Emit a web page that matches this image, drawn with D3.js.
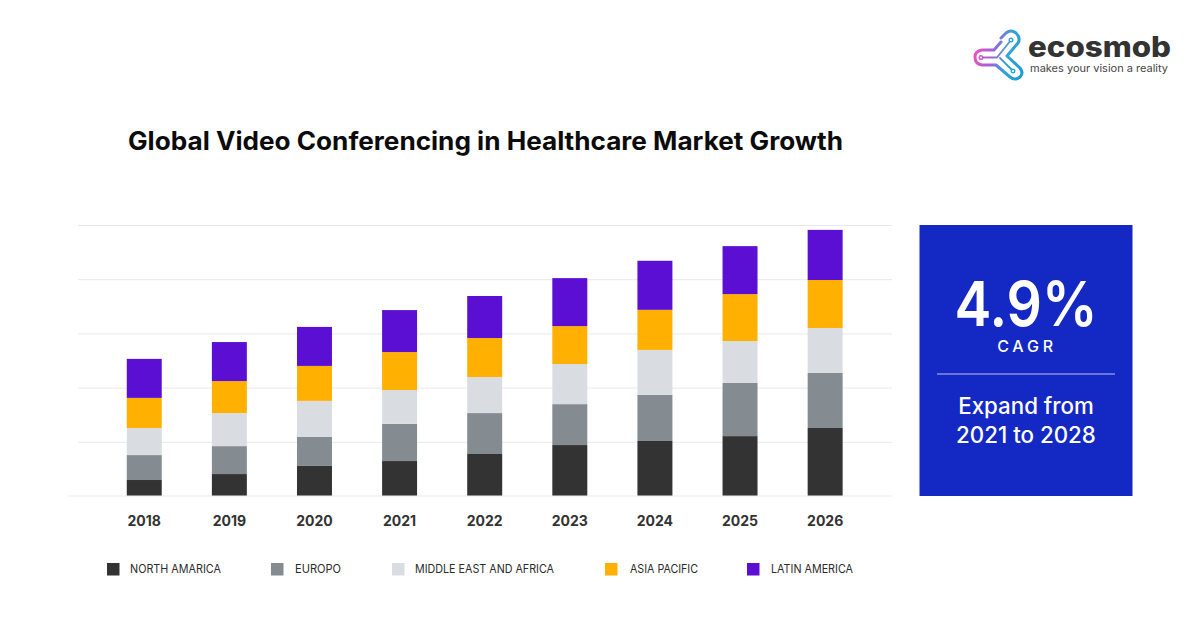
<!DOCTYPE html>
<html>
<head>
<meta charset="utf-8">
<script src="https://cdn.jsdelivr.net/npm/d3@7"></script>
<style>
  html, body { margin: 0; padding: 0; background: #fff; }
  svg { display: block; }
  text { font-family: Inter, Lato, sans-serif; }
</style>
</head>
<body>
<svg id="chart" width="1200" height="630"></svg>
<script>
const years = ["2018", "2019", "2020", "2021", "2022", "2023", "2024", "2025", "2026"];
const regions = ["NORTH AMARICA", "EUROPO", "MIDDLE EAST AND AFRICA", "ASIA PACIFIC", "LATIN AMERICA"];
const colors = ["#333333", "#848c92", "#d9dde1", "#ffb000", "#5b0fd3"];

// no axis labels in the original so the unit is arbitrary
const northAmerica = [5.9, 8.1, 11.1, 12.9, 15.5, 18.8, 20.3, 22.1, 25.1];
const europe = [9.2, 10.3, 10.7, 13.7, 15.1, 15.1, 17.0, 19.6, 20.3];
const middleEast = [10.0, 12.2, 13.3, 12.5, 13.3, 14.8, 16.6, 15.5, 16.6];
const asiaPacific = [11.1, 11.8, 12.9, 14.0, 14.4, 14.0, 14.8, 17.3, 17.7];
const latinAmerica = [14.4, 14.4, 14.4, 15.5, 15.5, 17.7, 18.1, 17.7, 18.5];
const gridTicks = [20, 40, 60, 80, 100];

const legendTextX = [130, 295, 415, 630, 771];
const legendBoxX = [107, 271, 392, 605, 747];
const legendWidths = [91, 46, 139, 68, 82];

const svg = d3.select("#chart");

const x = d3.scaleBand()
  .domain(years)
  .range([101.7, 867.7])
  .paddingInner(0.589)
  .paddingOuter(0.2945);

const y = d3.scaleLinear().domain([0, 100]).range([496, 225]);

// Title
svg.append("text")
  .attr("x", 128)
  .attr("y", 150)
  .attr("font-size", 25)
  .attr("font-weight", 700)
  .attr("textLength", 715)
  .attr("lengthAdjust", "spacingAndGlyphs")
  .attr("fill", "#0b0b0b")
  .text("Global Video Conferencing in Healthcare Market Growth");

// Grid lines
svg.append("g")
  .attr("transform", "translate(892,0)")
  .call(d3.axisLeft(y).tickValues(gridTicks).tickSize(814).tickFormat(""))
  .call((g) => g.select(".domain").remove())
  .selectAll(".tick line")
  .attr("stroke", "#e6e9ec")
  .attr("stroke-width", 1);

// Stacked bars
const rows = years.map((year, i) => ({
  year: year,
  na: northAmerica[i],
  eu: europe[i],
  me: middleEast[i],
  ap: asiaPacific[i],
  la: latinAmerica[i]
}));
const stack = d3.stack().keys(["na", "eu", "me", "ap", "la"]);

svg.append("g")
  .selectAll("g")
  .data(stack(rows))
  .join("g")
  .attr("fill", (d, i) => colors[i])
  .selectAll("rect")
  .data((d) => d)
  .join("rect")
  .attr("x", (d) => x(d.data.year))
  .attr("y", (d) => y(d[1]))
  .attr("width", x.bandwidth())
  .attr("height", (d) => y(d[0]) - y(d[1]));

// Baseline and year labels
svg.append("g")
  .attr("transform", "translate(0,496)")
  .call(d3.axisBottom(x).tickSize(0).tickPadding(20))
  .call((g) => g.select(".domain").remove())
  .selectAll("text")
  .attr("font-size", 14)
  .attr("font-weight", 700)
  .attr("font-family", "Inter")
  .attr("fill", "#333");

svg.append("line")
  .attr("x1", 68).attr("x2", 892)
  .attr("y1", y(0)).attr("y2", y(0))
  .attr("stroke", "#e9ebed")
  .attr("stroke-width", 1.2);

// Legend
const legend = svg.append("g")
  .selectAll("g")
  .data(regions)
  .join("g");

legend.append("rect")
  .attr("x", (d, i) => legendBoxX[i])
  .attr("y", 563)
  .attr("width", 12.5)
  .attr("height", 12.5)
  .attr("fill", (d, i) => colors[i]);

legend.append("text")
  .attr("x", (d, i) => legendTextX[i])
  .attr("y", 573)
  .attr("font-size", 12)
  .attr("fill", "#2b2b2b")
  .attr("textLength", (d, i) => legendWidths[i])
  .attr("lengthAdjust", "spacingAndGlyphs")
  .text((d) => d);

// CAGR panel
const panel = svg.append("g");
panel.append("rect")
  .attr("x", 919.5).attr("y", 225)
  .attr("width", 213).attr("height", 271)
  .attr("fill", "#1428c4");

panel.append("text")
  .attr("x", 1026).attr("y", 326)
  .attr("text-anchor", "middle")
  .attr("font-size", 62)
  .attr("font-weight", 600)
  .attr("textLength", 143)
  .attr("lengthAdjust", "spacingAndGlyphs")
  .attr("fill", "#fff")
  .text("4.9%");

panel.append("text")
  .attr("x", 1027).attr("y", 352)
  .attr("text-anchor", "middle")
  .attr("font-size", 16)
  .attr("font-weight", 500)
  .attr("letter-spacing", 3.8)
  .attr("fill", "#fff")
  .text("CAGR");

panel.append("line")
  .attr("x1", 937).attr("x2", 1115)
  .attr("y1", 374).attr("y2", 374)
  .attr("stroke", "#b9c0ee")
  .attr("stroke-width", 1.2);

panel.selectAll(".note")
  .data(["Expand from", "2021 to 2028"])
  .join("text")
  .attr("class", "note")
  .attr("x", 1026)
  .attr("y", (d, i) => 414 + i * 29)
  .attr("text-anchor", "middle")
  .attr("font-size", 22.3)
  .attr("font-weight", 500)
  .attr("fill", "#fff")
  .text((d) => d);

// Logo
const defs = svg.append("defs");
const grad = defs.append("linearGradient")
  .attr("id", "logoGrad")
  .attr("gradientUnits", "userSpaceOnUse")
  .attr("x1", 975).attr("y1", 50)
  .attr("x2", 1022).attr("y2", 60);
grad.append("stop").attr("offset", "0").attr("stop-color", "#f04fc0");
grad.append("stop").attr("offset", "0.35").attr("stop-color", "#a45fdc");
grad.append("stop").attr("offset", "0.7").attr("stop-color", "#2fa6d8");
grad.append("stop").attr("offset", "1").attr("stop-color", "#1f9ccf");

const logo = svg.append("g")
  .attr("fill", "none")
  .attr("stroke", "url(#logoGrad)")
  .attr("stroke-linecap", "round")
  .attr("stroke-linejoin", "round");

logo.append("path")
  .attr("stroke-width", 3)
  .attr("d", "M1001 38 L1006 33 Q1011 29 1016 33 Q1021 38 1018 43 L1007 56 L1020 68 Q1024 73 1020 77 Q1015 81 1010 77 L996 65 L982 65 Q975 64 975 57 Q975 51 982 50 L994 50 L1001 42");
logo.append("path")
  .attr("stroke-width", 1.8)
  .attr("d", "M981 57.5 L997 57.5 L1011 40 M1000 58 L1013 71");
logo.selectAll("circle")
  .data([[981, 57.5], [1011, 40], [1013, 71]])
  .join("circle")
  .attr("cx", (d) => d[0])
  .attr("cy", (d) => d[1])
  .attr("r", 1.8)
  .attr("fill", "#fff")
  .attr("stroke-width", 1.4);

svg.append("text")
  .attr("x", 1028).attr("y", 57)
  .attr("font-size", 28)
  .attr("font-weight", 800)
  .attr("fill", "#333")
  .attr("textLength", 143)
  .attr("lengthAdjust", "spacingAndGlyphs")
  .text("ecosmob");

svg.append("text")
  .attr("x", 1030).attr("y", 72)
  .attr("font-size", 10.5)
  .attr("fill", "#444")
  .attr("textLength", 138)
  .attr("lengthAdjust", "spacingAndGlyphs")
  .text("makes your vision a reality");
</script>
</body>
</html>
